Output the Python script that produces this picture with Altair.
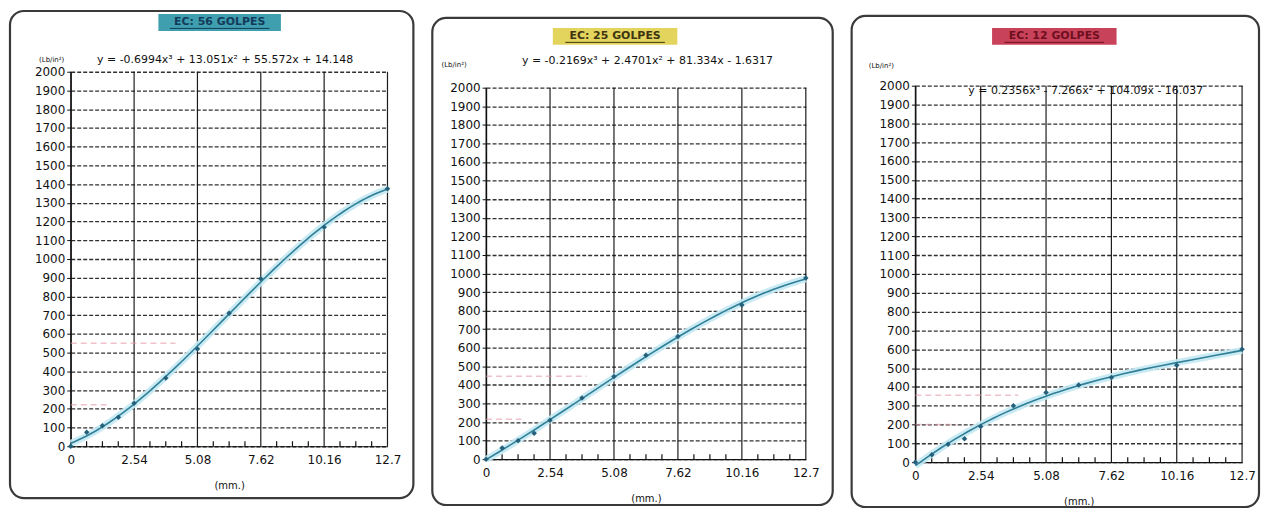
import altair as alt
import pandas as pd

# ---- data ----
PEN_MM = [0, 0.64, 1.27, 1.91, 2.54, 3.81, 5.08, 6.35, 7.62, 10.16, 12.7]
LOAD_56 = [0, 75, 110, 155, 230, 365, 520, 710, 895, 1170, 1375]
LOAD_25 = [0, 60, 100, 140, 210, 330, 445, 560, 660, 830, 975]
LOAD_12 = [0, 40, 95, 125, 190, 300, 370, 410, 450, 515, 600]

TITLES = ["EC: 56 GOLPES", "EC: 25 GOLPES", "EC: 12 GOLPES"]
EQUATIONS = [
    "y = -0.6994x³ + 13.051x² + 55.572x + 14.148",
    "y = -0.2169x³ + 2.4701x² + 81.334x - 1.6317",
    "y = 0.2356x³ - 7.266x² + 104.09x - 16.037",
]
X_TICKS = [0, 2.54, 5.08, 7.62, 10.16, 12.7]
Y_TICKS = [0, 100, 200, 300, 400, 500, 600, 700, 800, 900, 1000,
           1100, 1200, 1300, 1400, 1500, 1600, 1700, 1800, 1900, 2000]
MINOR_X = [0.635, 1.27, 1.905, 3.175, 3.81, 4.445, 5.715, 6.35, 6.985,
           8.255, 8.89, 9.525, 10.795, 11.43, 12.065]

# faint reference dashes (x end, load)
REF_X_56 = [4.2, 1.6]
REF_Y_56 = [550, 222]
REF_X_25 = [4.0, 1.4]
REF_Y_25 = [446, 215]
REF_X_12 = [4.0, 1.6]
REF_Y_12 = [356, 200]

BOX_COLORS = ["#3f9fae", "#e3d45e", "#c8435a"]
BOX_TEXT = ["#123a5c", "#3d3510", "#6e0f1f"]

FONT = "DejaVu Sans"
VIEW_H = 392

LAYOUTS = [
    dict(w=318, top=0, bot=376, fl=-61, fr=26, ft=-61, fb=428,
         bx0=88, bx1=211, by0=-58, by1=-41, ex=155, ey=-12, tx=-7, ty=-12),
    dict(w=321, top=16, bot=389, fl=-54, fr=27, ft=-54, fb=435,
         bx0=67, bx1=192, by0=-44, by1=-27, ex=162, ey=-11, tx=-20, ty=-7),
    dict(w=328, top=14, bot=392, fl=-64, fr=17, ft=-56, fb=437,
         bx0=77, bx1=202, by0=-44, by1=-27, ex=171, ey=19, tx=-22, ty=-6),
]


def panel(loads, ref_x, ref_y, title, eq, lay, box_col, box_txt):
    W = lay["w"]
    top, bot = lay["top"], lay["bot"]
    df = pd.DataFrame({"x": PEN_MM, "y": loads})
    xs = alt.Scale(domain=[0, 12.7], nice=False, zero=False)
    ys = alt.Scale(domain=[0, 2000], nice=False, range=[bot, top])
    xax = alt.Axis(values=X_TICKS, format=".2~f", ticks=False, labelPadding=8,
                   labelFlush=False, labelFontSize=12, labelFont=FONT,
                   title="(mm.)", titlePadding=15, titleFontSize=10,
                   titleFontWeight="normal", domainColor="#111", domainWidth=1.2,
                   offset=bot - VIEW_H, grid=False)
    yax = alt.Axis(values=Y_TICKS, format="d", labelFlush=False, labelFontSize=12,
                   labelFont=FONT, tickSize=4, tickColor="#111", labelPadding=2,
                   domainColor="#111", domainWidth=1.2,
                   grid=True, gridColor="#1a1a1a", gridDash=[4, 2], gridWidth=1.3,
                   gridOpacity=0.9,
                   title="(Lb/in²)", titleAngle=0, titleX=lay["tx"], titleY=lay["ty"],
                   titleAlign="right", titleBaseline="middle", titleFontSize=7,
                   titleFontWeight="normal")
    X = alt.X("x:Q", scale=xs, axis=xax)
    Y = alt.Y("y:Q", scale=ys, axis=yax)

    one = alt.Data(values=[{"k": 0}])

    frame = alt.Chart(one).mark_rect(
        filled=False, stroke="#3a3a3a", strokeWidth=2.2, cornerRadius=14).encode(
        x=alt.value(lay["fl"]), x2=alt.value(W + lay["fr"]),
        y=alt.value(lay["ft"]), y2=alt.value(lay["fb"]))

    vgrid = alt.Chart(pd.DataFrame({"x": X_TICKS})).mark_rule(
        color="#111", strokeWidth=1.2, opacity=0.95).encode(
        x=X, y=alt.value(top), y2=alt.value(bot))

    refdf = pd.DataFrame({"x0": [0] * len(ref_x), "x1": ref_x, "y": ref_y})
    refl = alt.Chart(refdf).mark_rule(color="#e59aa6", strokeDash=[6, 4],
                                      strokeWidth=1.5, opacity=0.6).encode(
        x=alt.X("x0:Q", scale=xs, axis=xax), x2="x1:Q",
        y=alt.Y("y:Q", scale=ys, axis=yax))

    minor = alt.Chart(pd.DataFrame({"x": MINOR_X})).mark_rule(
        color="#111", strokeWidth=1.2).encode(
        x=X, y=alt.value(bot), y2=alt.value(bot - 5))

    fit = alt.Chart(df).transform_regression("x", "y", method="poly", order=3)
    halo = fit.mark_line(color="#c4e9f3", strokeWidth=7, opacity=0.9).encode(x=X, y=Y)
    line = fit.mark_line(color="#2f7f98", strokeWidth=1.6).encode(x=X, y=Y)
    pts = alt.Chart(df).mark_point(shape="diamond", filled=True, size=30,
                                   color="#24607a", opacity=1).encode(x=X, y=Y)

    eqt = alt.Chart(one).mark_text(font=FONT, fontSize=11, color="#111").encode(
        x=alt.value(lay["ex"]), y=alt.value(lay["ey"]), text=alt.value(eq))

    box = alt.Chart(one).mark_rect(color=box_col).encode(
        x=alt.value(lay["bx0"]), x2=alt.value(lay["bx1"]),
        y=alt.value(lay["by0"]), y2=alt.value(lay["by1"]))
    cx = (lay["bx0"] + lay["bx1"]) / 2
    cy = (lay["by0"] + lay["by1"]) / 2
    btxt = alt.Chart(one).mark_text(font=FONT, fontSize=11, fontWeight="bold",
                                    color=box_txt).encode(
        x=alt.value(cx), y=alt.value(cy), text=alt.value(title))
    uline = alt.Chart(one).mark_rule(color=box_txt, strokeWidth=1).encode(
        x=alt.value(cx - 50), x2=alt.value(cx + 50), y=alt.value(cy + 6))

    return alt.layer(frame, vgrid, refl, minor, halo, line, pts, eqt,
                     box, btxt, uline).properties(width=W, height=VIEW_H)


panels = [
    panel(LOAD_56, REF_X_56, REF_Y_56, TITLES[0], EQUATIONS[0], LAYOUTS[0],
          BOX_COLORS[0], BOX_TEXT[0]),
    panel(LOAD_25, REF_X_25, REF_Y_25, TITLES[1], EQUATIONS[1], LAYOUTS[1],
          BOX_COLORS[1], BOX_TEXT[1]),
    panel(LOAD_12, REF_X_12, REF_Y_12, TITLES[2], EQUATIONS[2], LAYOUTS[2],
          BOX_COLORS[2], BOX_TEXT[2]),
]

chart = alt.hconcat(*panels, spacing=15, padding=0).configure_view(
    stroke=None
).configure_axis(labelColor="#111", titleColor="#111", titleFont=FONT)

chart.save("out.html", embed_options={"renderer": "svg", "actions": False})
